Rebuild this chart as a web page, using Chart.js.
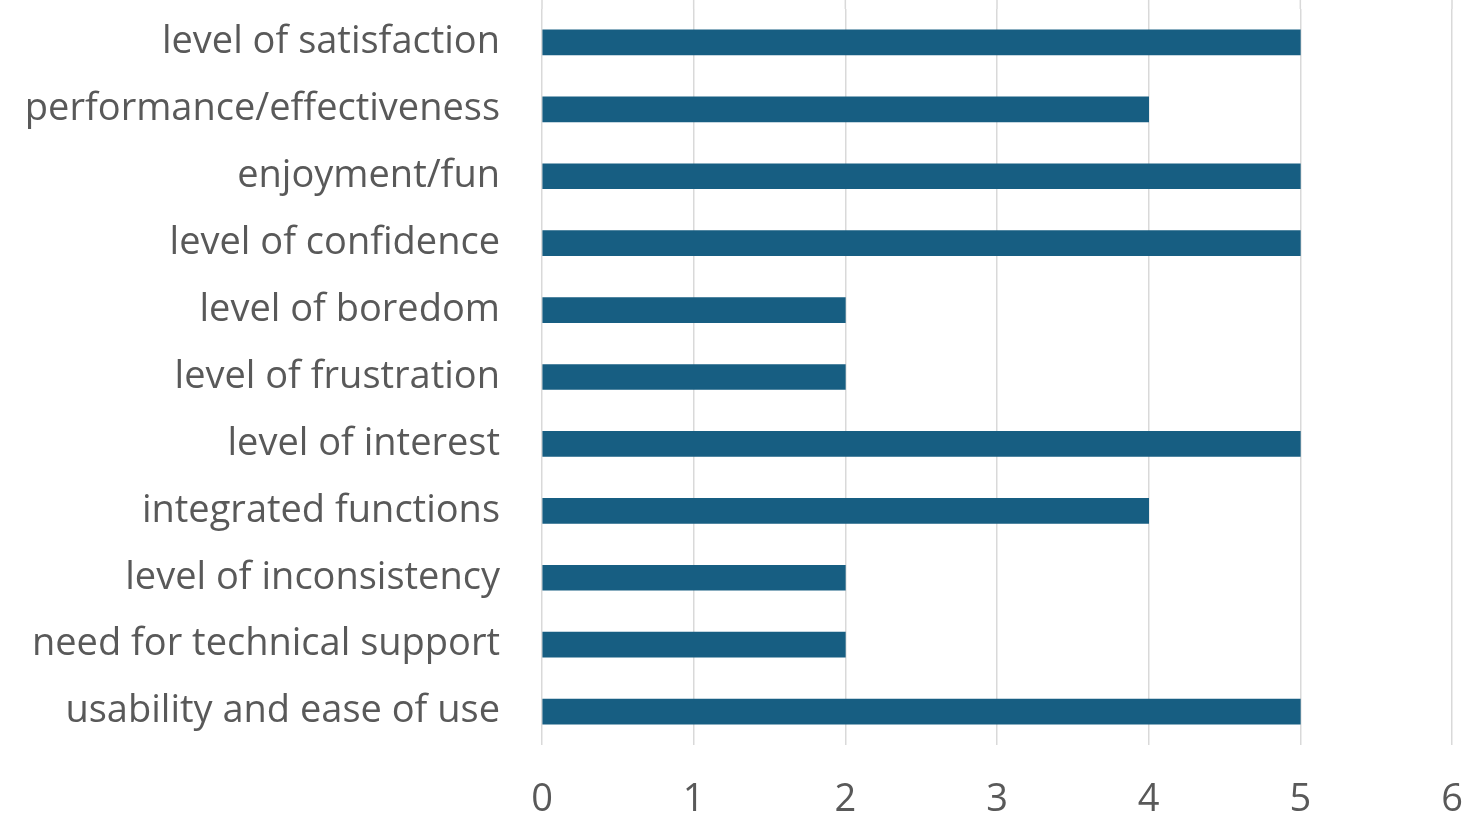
<!DOCTYPE html>
<html>
<head>
<meta charset="utf-8">
<script src="https://cdn.jsdelivr.net/npm/chart.js@4"></script>
<style>
html,body{margin:0;padding:0;background:#fff;}
#wrap{width:1484px;height:819px;position:relative;}
</style>
</head>
<body>
<div id="wrap"><canvas id="c" width="1484" height="819"></canvas></div>
<script>
const categories = [
  "level of satisfaction",
  "performance/effectiveness",
  "enjoyment/fun",
  "level of confidence",
  "level of boredom",
  "level of frustration",
  "level of interest",
  "integrated functions",
  "level of inconsistency",
  "need for technical support",
  "usability and ease of use"
];
const values = [5, 4, 5, 5, 2, 2, 5, 4, 2, 2, 5];
const xTicks = [0, 1, 2, 3, 4, 5, 6];

const gridExtend = {
  id: 'gridExtend',
  beforeDatasetsDraw(chart) {
    const ctx = chart.ctx, xs = chart.scales.x, top = chart.chartArea.top;
    ctx.save();
    ctx.strokeStyle = '#d9d9d9';
    ctx.lineWidth = 1.5;
    xTicks.forEach(v => {
      const px = xs.getPixelForValue(v);
      ctx.beginPath();
      ctx.moveTo(px, 0);
      ctx.lineTo(px, top);
      ctx.stroke();
    });
    ctx.restore();
  }
};

new Chart(document.getElementById('c'), {
  type: 'bar',
  data: {
    labels: categories,
    datasets: [{
      data: values,
      backgroundColor: '#175e82',
      barThickness: 25
    }]
  },
  plugins: [gridExtend],
  options: {
    indexAxis: 'y',
    responsive: false,
    animation: false,
    layout: { autoPadding: false, padding: { top: 9, left: 7, right: 32, bottom: 0 } },
    plugins: { legend: { display: false }, tooltip: { enabled: false } },
    scales: {
      x: {
        min: xTicks[0],
        max: xTicks[xTicks.length - 1],
        ticks: { stepSize: 1, color: '#595959', font: { family: 'Open Sans', size: 38 }, padding: 32 },
        grid: { color: '#d9d9d9', lineWidth: 1.5, drawTicks: false },
        border: { display: false },
        afterFit: s => { s.height = 74; s.paddingLeft = 0; s.paddingRight = 0; s.paddingTop = 0; s.paddingBottom = 0; }
      },
      y: {
        ticks: { color: '#595959', font: { family: 'Open Sans', size: 38 }, padding: 42, autoSkip: false },
        grid: { display: false, drawTicks: false },
        border: { display: false },
        afterFit: s => { s.width = 535; s.paddingLeft = 0; s.paddingRight = 0; s.paddingTop = 0; s.paddingBottom = 0; }
      }
    }
  }
});
</script>
</body>
</html>
